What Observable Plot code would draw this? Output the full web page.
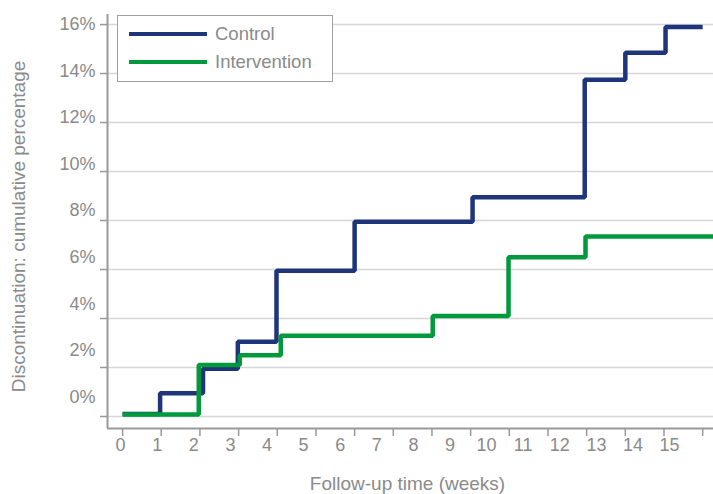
<!DOCTYPE html>
<html>
<head>
<meta charset="utf-8">
<script src="https://cdn.jsdelivr.net/npm/d3@7"></script>
<script src="https://cdn.jsdelivr.net/npm/@observablehq/plot@0.6"></script>
<style>
  html, body { margin: 0; padding: 0; background: #fff; }
  #wrap { position: relative; width: 713px; height: 494px; font-family: "Liberation Sans", Arial, sans-serif; }
  #legend { position: absolute; left: 117px; top: 15px; width: 214px; height: 65px;
            border: 1.5px solid #a0a0a0; background: #fff; }
  .item { position: absolute; left: 11px; height: 20px; display: flex; align-items: center; }
  .swatch { width: 78px; height: 4.5px; margin-right: 8px; }
  .lab { font-size: 18.5px; color: #8a8a8a; }
</style>
</head>
<body>
<div id="wrap"></div>
<script>
// ---- data ----
const seriesNames = ["Control", "Intervention"];
const seriesColors = ["#1e3579", "#009a3d"];

const controlWeeks = [0, 0.97, 2.08, 2.98, 3.98, 6, 9.05, 11.95, 13, 14.04, 15];
const controlPct   = [0.1, 0.95, 1.95, 3.05, 5.95, 7.95, 8.95, 13.75, 14.85, 15.9, 15.9];

const interventionWeeks = [0, 1.97, 3.03, 4.09, 8.02, 9.98, 11.97, 15.4];
const interventionPct   = [0.08, 2.1, 2.5, 3.3, 4.1, 6.5, 7.35, 7.35];

const xTickValues = [0,1,2,3,4,5,6,7,8,9,10,11,12,13,14,15];
const yTickValues = [0,2,4,6,8,10,12,14,16];

const xTitle = "Follow-up time (weeks)";
const yTitle = "Discontinuation: cumulative percentage";

// the tick labels of the original sit slightly compressed relative to their ticks
const xLabelScale = 0.9465, xLabelShift = -0.052;
const yLabelScale = 0.95, yLabelShift = 0.8;

// ---- build ----
const rows = [
  ...controlWeeks.map((w, i) => ({series: seriesNames[0], week: w, pct: controlPct[i]})),
  ...interventionWeeks.map((w, i) => ({series: seriesNames[1], week: w, pct: interventionPct[i]}))
];

const grey = "#8a8a8a";
const xDomain = [-0.39, 15.28];
const yDomain = [-0.49, 16.41];

const chart = Plot.plot({
  width: 713,
  height: 494,
  marginLeft: 107,
  marginRight: 0,
  marginTop: 14,
  marginBottom: 66,
  style: {fontFamily: "'Liberation Sans', Arial, sans-serif", background: "#fff"},
  x: {domain: xDomain},
  y: {domain: yDomain},
  color: {domain: seriesNames, range: seriesColors},
  marks: [
    Plot.gridY(yTickValues, {stroke: "#d6d6d6", strokeOpacity: 1, strokeWidth: 1.5}),
    Plot.axisY({ticks: yTickValues, tickFormat: () => "", tickSize: 7, stroke: "#999", strokeWidth: 1.5, label: null}),
    Plot.axisX({ticks: xTickValues, tickFormat: () => "", tickSize: 8, stroke: "#999", strokeWidth: 1.5, label: null}),
    Plot.ruleX([xDomain[0]], {stroke: "#999", strokeWidth: 2}),
    Plot.ruleY([yDomain[0]], {stroke: "#999", strokeWidth: 2}),
    Plot.line(rows, {
      x: "week", y: "pct", z: "series", stroke: "series",
      curve: "step-after", strokeWidth: 4.5, strokeLinejoin: "miter", strokeLinecap: "butt", clip: true
    }),
    Plot.text(yTickValues, {
      frameAnchor: "left", y: d => d * yLabelScale + yLabelShift, text: d => d + "%",
      textAnchor: "end", dx: -12, fontSize: 18, fill: grey
    }),
    Plot.text(xTickValues, {
      frameAnchor: "bottom", x: d => d * xLabelScale + xLabelShift, text: d => String(d),
      dy: 22, fontSize: 18, fill: grey
    }),
    Plot.text([xTitle], {frameAnchor: "bottom", textAnchor: "middle", dy: 61, dx: -3, fontSize: 19, fill: grey}),
    Plot.text([yTitle], {frameAnchor: "left", textAnchor: "middle", rotate: -90, dx: -89, dy: 5, fontSize: 19, fill: grey})
  ]
});

const wrap = document.getElementById("wrap");
wrap.appendChild(chart);

const legend = document.createElement("div");
legend.id = "legend";
seriesNames.forEach((name, i) => {
  const item = document.createElement("div");
  item.className = "item";
  item.style.top = (8 + i * 28) + "px";
  const sw = document.createElement("div");
  sw.className = "swatch";
  sw.style.background = seriesColors[i];
  const lab = document.createElement("span");
  lab.className = "lab";
  lab.textContent = name;
  item.appendChild(sw);
  item.appendChild(lab);
  legend.appendChild(item);
});
wrap.appendChild(legend);
</script>
</body>
</html>
